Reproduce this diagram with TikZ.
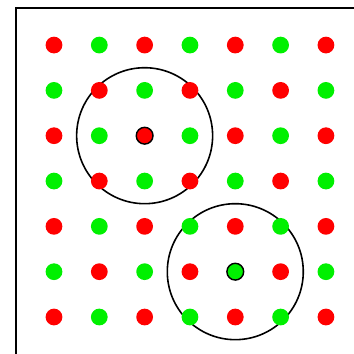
\documentclass[tikz,border=0pt]{standalone}
\usetikzlibrary{positioning}

\definecolor{dotred}{RGB}{255,0,0}
\definecolor{dotgreen}{RGB}{0,240,0}

\begin{document}
\begin{tikzpicture}
  [dot/.style={circle,inner sep=0pt,minimum size=0.37cm},
  reddot/.style={dot,fill=dotred},
  greendot/.style={dot,fill=dotgreen},
  marked/.style={draw=black,line width=0.9pt},
  ring/.style={draw=black,line width=1pt}]
  \useasboundingbox (0,0) rectangle (7.81,7.81);
  \clip (0,0) rectangle (7.81,7.81);
  % frame
  \draw[line width=0.85pt] (0.353,-1) rectangle (9,7.633);
  % centres of the two rings
  \coordinate (c1) at (1.191+2,0.816+4);
  \coordinate (c2) at (1.191+4,0.816+1);
  \draw[ring] (c1) circle (1.5);
  \draw[ring] (c2) circle (1.5);
  % lattice
  \foreach \i in {0,...,6}
    \foreach \j in {0,...,6}{
      \pgfmathtruncatemacro{\parity}{mod(\i+\j,2)}
      \ifnum\parity=0
        \node[reddot] (d-\i-\j) at (1.191+\i,0.816+\j) {};
      \else
        \node[greendot] (d-\i-\j) at (1.191+\i,0.816+\j) {};
      \fi
    }
  \node[reddot,marked] (m1) at (c1) {};
  \node[greendot,marked] (m2) at (c2) {};
\end{tikzpicture}
\end{document}
